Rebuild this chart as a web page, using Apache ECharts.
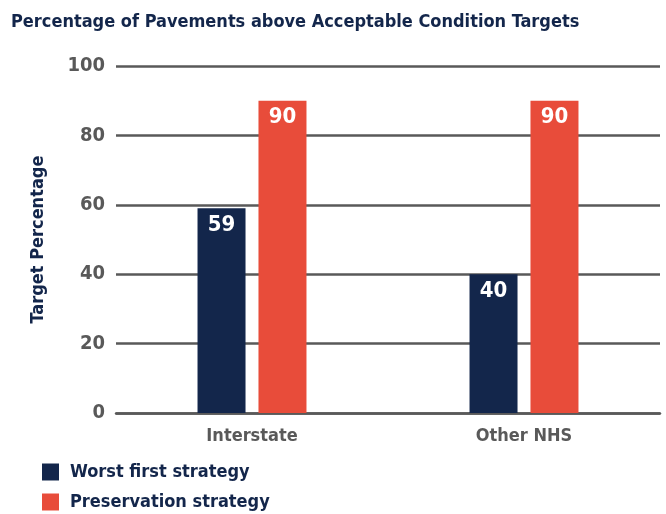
<!DOCTYPE html>
<html>
<head>
<meta charset="utf-8">
<script src="https://cdn.jsdelivr.net/npm/echarts@6/dist/echarts.min.js"></script>
<style>
  html, body { margin: 0; padding: 0; background: #fff; }
  #chart { width: 666px; height: 514px; }
</style>
</head>
<body>
<div id="chart"></div>
<script>
// data
var categories = ['Interstate', 'Other NHS'];
var worstFirst = [59, 40];
var preservation = [90, 90];
var yTicks = { min: 0, max: 100, interval: 20 };

var FONT = '"DejaVu Sans Condensed", "Liberation Sans Narrow", sans-serif';
var NAVY = '#13264b';
var RED = '#e84c3a';
var GREY = '#595959';

var legendText = { color: NAVY, fontFamily: FONT, fontWeight: 'bold', fontSize: 18, padding: [0, 0, 0, 6] };

var myChart = echarts.init(document.getElementById('chart'));
var option = {
    animation: false,
    title: {
        text: 'Percentage of Pavements above Acceptable Condition Targets',
        left: 6,
        top: 8,
        textStyle: { color: NAVY, fontFamily: FONT, fontWeight: 'bold', fontSize: 18 }
    },
    legend: [
        {
            left: 37, top: 458, itemWidth: 17, itemHeight: 17, icon: 'rect',
            textStyle: legendText, data: ['Worst first strategy']
        },
        {
            left: 37, top: 488, itemWidth: 17, itemHeight: 17, icon: 'rect',
            textStyle: legendText, data: ['Preservation strategy']
        }
    ],
    grid: { left: 116, top: 66, width: 544, height: 347 },
    xAxis: {
        type: 'category',
        data: categories,
        axisLine: { lineStyle: { color: GREY, width: 2.5 } },
        axisTick: { show: false },
        axisLabel: { color: GREY, fontFamily: FONT, fontWeight: 'bold', fontSize: 18, margin: 14 }
    },
    yAxis: {
        type: 'value',
        min: yTicks.min,
        max: yTicks.max,
        interval: yTicks.interval,
        name: 'Target Percentage',
        nameLocation: 'middle',
        nameGap: 69,
        nameTextStyle: { color: NAVY, fontFamily: FONT, fontWeight: 'bold', fontSize: 18 },
        axisLine: { show: false },
        axisTick: { show: false },
        splitLine: { lineStyle: { color: GREY, width: 2.5 } },
        axisLabel: { color: GREY, fontFamily: FONT, fontWeight: 'bold', fontSize: 20, margin: 11 }
    },
    series: [
        {
            name: 'Worst first strategy',
            type: 'bar',
            barWidth: 48,
            barGap: '27%',
            itemStyle: { color: NAVY },
            label: { show: true, position: 'insideTop', distance: 6, color: '#fff', fontFamily: FONT, fontWeight: 'bold', fontSize: 22 },
            data: worstFirst
        },
        {
            name: 'Preservation strategy',
            type: 'bar',
            barWidth: 48,
            itemStyle: { color: RED },
            label: { show: true, position: 'insideTop', distance: 6, color: '#fff', fontFamily: FONT, fontWeight: 'bold', fontSize: 22 },
            data: preservation
        }
    ]
};
myChart.setOption(option);
</script>
</body>
</html>
